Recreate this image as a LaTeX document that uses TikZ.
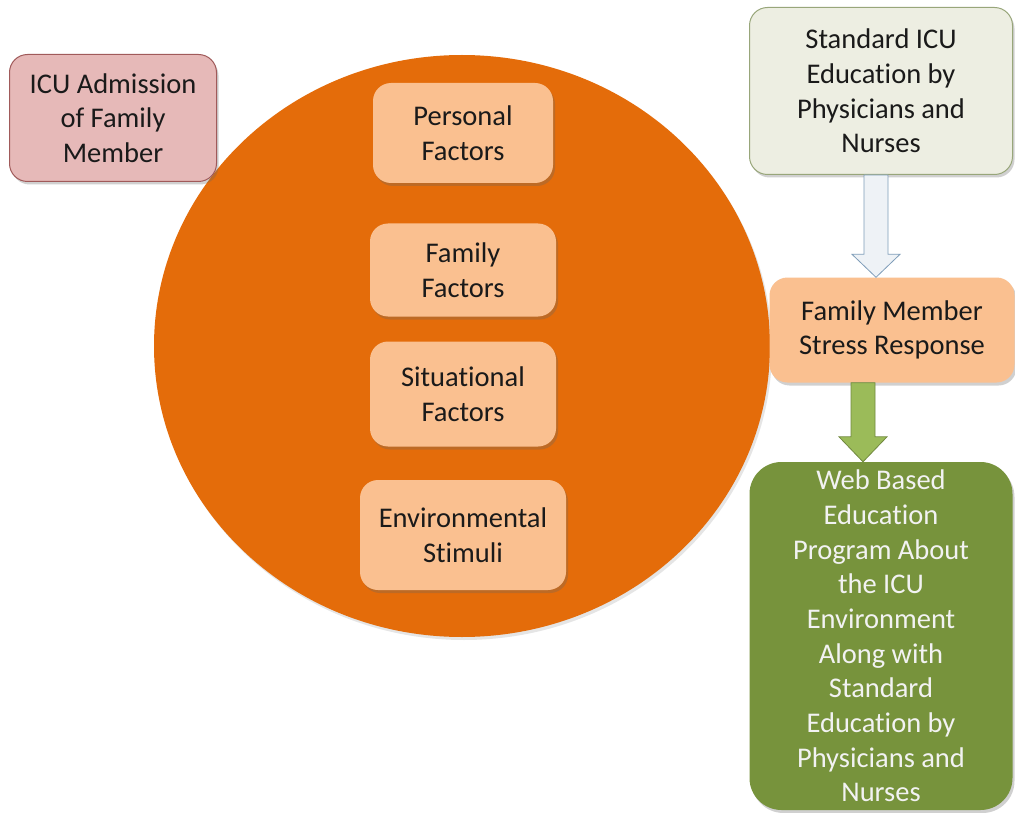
\documentclass[tikz,border=0pt]{standalone}
\usepackage{fontspec}
\setmainfont[Ligatures={NoCommon}]{Carlito}
\usetikzlibrary{calc,shadows}
\definecolor{ringfill}{HTML}{E46C0A}
\definecolor{factorfill}{HTML}{FAC090}
\definecolor{admitfill}{HTML}{E6B9B8}
\definecolor{admitline}{HTML}{A05A5A}
\definecolor{stdfill}{HTML}{EDEEE2}
\definecolor{stdline}{HTML}{98A67A}
\definecolor{webfill}{HTML}{77933C}
\definecolor{arrowgreen}{HTML}{9BBB59}
\definecolor{arrowgreenline}{HTML}{71893F}
\definecolor{hollowfill}{HTML}{EEF2F6}
\definecolor{hollowline}{HTML}{7F9DB9}
\definecolor{textdark}{HTML}{1A1A1A}
\tikzset{
  box/.style={rounded corners=18pt, align=center, text=textdark,
    inner sep=0pt, font=\fontsize{28.5}{34.7}\selectfont,
    drop shadow={shadow xshift=2pt, shadow yshift=-3pt, opacity=0.3, fill=black!60}},
  factor/.style={box, fill=factorfill},
}
\begin{document}
\begin{tikzpicture}[x=1pt,y=-1pt]
\useasboundingbox (0,0) rectangle (1015,813);
\fill[white] (0,0) rectangle (1015,813);

% large circle of stress factors
\fill[ringfill, drop shadow={shadow xshift=2pt, shadow yshift=-3pt, opacity=0.2}]
  (462,346) ellipse [x radius=308, y radius=291];

\node[factor, minimum width=180pt, minimum height=100pt] (pers) at (463,133) {Personal\\Factors};
\node[factor, minimum width=186pt, minimum height=93pt]  (fam)  at (463,270) {Family\\Factors};
\node[factor, minimum width=186pt, minimum height=105pt] (sit)  at (463,394) {Situational\\Factors};
\node[factor, minimum width=206pt, minimum height=110pt] (env)  at (463,535) {Environmental\\Stimuli};

\node[box, fill=admitfill, draw=admitline, line width=1pt,
      minimum width=207pt, minimum height=127pt] (admit) at (113,118)
      {ICU Admission\\of Family\\Member};

\node[box, fill=stdfill, draw=stdline, line width=1pt,
      minimum width=263pt, minimum height=167pt] (std) at (881,91)
      {Standard ICU\\Education by\\Physicians and\\Nurses};

\node[factor, minimum width=245pt, minimum height=105pt] (stress) at (892,330)
      {Family Member\\Stress Response};

\node[box, fill=webfill, text=white!95!black, rounded corners=32pt,
      minimum width=263pt, minimum height=348pt] (web) at (881,636)
      {Web Based\\Education\\Program About\\the ICU\\Environment\\Along with\\Standard\\Education by\\Physicians and\\Nurses};

% hollow block arrow from standard education to stress response
\coordinate (hA) at ($(std.south)+(-5,0)$);
\coordinate (hB) at ($(stress.north)+(-16,0)$);
\draw[fill=hollowfill, draw=hollowline, line width=0.8pt]
  ($(hA)+(-12,0)$) -- ($(hA)+(12,0)$) -- ($(hB)+(12,-23)$) -- ($(hB)+(24,-23)$)
  -- (hB) -- ($(hB)+(-24,-23)$) -- ($(hB)+(-12,-23)$) -- cycle;

% green block arrow from stress response to web education
\coordinate (gA) at ($(stress.south)+(-29,0)$);
\coordinate (gB) at ($(web.north)+(-18,0)$);
\draw[fill=arrowgreen, draw=arrowgreenline, line width=0.8pt]
  ($(gA)+(-12,0)$) -- ($(gA)+(12,0)$) -- ($(gB)+(12,-25)$) -- ($(gB)+(24,-25)$)
  -- (gB) -- ($(gB)+(-24,-25)$) -- ($(gB)+(-12,-25)$) -- cycle;
\end{tikzpicture}
\end{document}
